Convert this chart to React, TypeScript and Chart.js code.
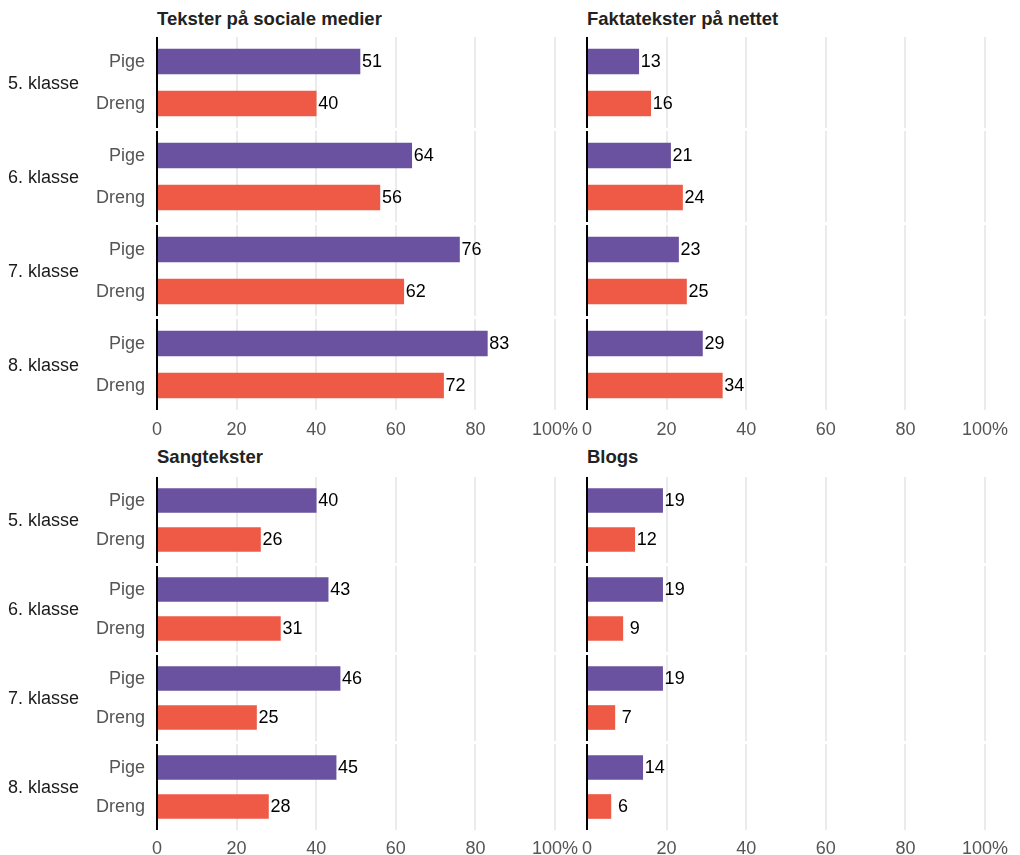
import React, { useEffect, useRef } from 'react';
import { Chart, registerables } from 'chart.js';

Chart.register(...registerables);

// ---- data ----
const grades = ['5. klasse', '6. klasse', '7. klasse', '8. klasse'];
const genders = ['Pige', 'Dreng'];
const panelTitles = ['Tekster på sociale medier', 'Faktatekster på nettet', 'Sangtekster', 'Blogs'];
const socialPige = [51, 64, 76, 83];
const socialDreng = [40, 56, 62, 72];
const faktaPige = [13, 21, 23, 29];
const faktaDreng = [16, 24, 25, 34];
const sangPige = [40, 43, 46, 45];
const sangDreng = [26, 31, 25, 28];
const blogsPige = [19, 19, 19, 14];
const blogsDreng = [12, 9, 7, 6];
const tickValues = [0, 20, 40, 60, 80, 100];
const tickLabels = ['0', '20', '40', '60', '80', '100%'];

// ---- styles ----
const PURPLE = '#6b52a1';
const RED = '#ef5a46';
const FONT = '"Liberation Sans", Arial, Helvetica, sans-serif';
const GRID = '#ebebeb';
const TICK_COLOR = '#555555';
const TEXT_COLOR = '#1a1a1a';

type PanelGeom = {
  title: string;
  pige: number[];
  dreng: number[];
  left: number;
  width: number;
  plotLeft: number;
  padRight: number;
  top: number;
  pitch: number;
  slotH: number;
  pad: number;
  barT: number;
  titleTop: number;
  tickPad: number;
  showY: boolean;
};

const EXTRA = 32;

const panels: PanelGeom[] = [
  { title: panelTitles[0], pige: socialPige, dreng: socialDreng, left: 0, width: 585, plotLeft: 157, padRight: 30, top: 37, pitch: 94, slotH: 91, pad: 3.5, barT: 25, titleTop: 8, tickPad: 5, showY: true },
  { title: panelTitles[1], pige: faktaPige, dreng: faktaDreng, left: 557, width: 463, plotLeft: 30, padRight: 35, top: 37, pitch: 94, slotH: 91, pad: 3.5, barT: 25, titleTop: 8, tickPad: 5, showY: false },
  { title: panelTitles[2], pige: sangPige, dreng: sangDreng, left: 0, width: 585, plotLeft: 157, padRight: 30, top: 477, pitch: 89, slotH: 86, pad: 4, barT: 24, titleTop: 446, tickPad: 4, showY: true },
  { title: panelTitles[3], pige: blogsPige, dreng: blogsDreng, left: 557, width: 463, plotLeft: 30, padRight: 35, top: 477, pitch: 89, slotH: 86, pad: 4, barT: 24, titleTop: 446, tickPad: 4, showY: false },
];

type FacetProps = { panel: PanelGeom; gi: number };

function Facet({ panel, gi }: FacetProps) {
  const ref = useRef<HTMLCanvasElement | null>(null);
  const isLast = gi === grades.length - 1;
  const height = panel.slotH + (isLast ? EXTRA : 0);
  const values = [panel.pige[gi], panel.dreng[gi]];

  useEffect(() => {
    if (!ref.current) return;
    const pad = panel.pad;
    const facetPlugin = {
      id: 'facetPlugin',
      beforeDatasetsDraw(chart: any) {
        const { ctx, chartArea: a, scales } = chart;
        const x = scales.x;
        ctx.save();
        ctx.strokeStyle = GRID;
        ctx.lineWidth = 2;
        for (const v of tickValues) {
          if (v === 0) continue;
          const px = Math.round(x.getPixelForValue(v));
          ctx.beginPath();
          ctx.moveTo(px, a.top - pad);
          ctx.lineTo(px, a.bottom + pad);
          ctx.stroke();
        }
        ctx.restore();
      },
      afterDatasetsDraw(chart: any) {
        const { ctx, chartArea: a, scales } = chart;
        const x = scales.x;
        const y = scales.y;
        ctx.save();
        // axis line at 0
        const x0 = Math.round(x.getPixelForValue(0));
        ctx.strokeStyle = '#000000';
        ctx.lineWidth = 2;
        ctx.beginPath();
        ctx.moveTo(x0, a.top - pad);
        ctx.lineTo(x0, a.bottom + pad);
        ctx.stroke();
        // value labels
        ctx.fillStyle = '#000000';
        ctx.font = `18px ${FONT}`;
        ctx.textAlign = 'left';
        ctx.textBaseline = 'middle';
        const meta = chart.getDatasetMeta(0);
        meta.data.forEach((bar: any, i: number) => {
          const v = chart.data.datasets[0].data[i];
          const txt = v < 10 ? ' ' + v : String(v);
          ctx.fillText(txt, bar.x + 2, bar.y + 1);
        });
        if (panel.showY) {
          // category labels (Pige / Dreng)
          ctx.fillStyle = TICK_COLOR;
          ctx.textAlign = 'right';
          genders.forEach((g, i) => {
            ctx.fillText(g, a.left - 12, y.getPixelForValue(i) + 1);
          });
          // grade label
          ctx.fillStyle = TEXT_COLOR;
          ctx.textAlign = 'left';
          ctx.fillText(grades[gi], 8, (a.top + a.bottom) / 2 + 1.5);
        }
        ctx.restore();
      },
    };

    const chart = new Chart(ref.current, {
      type: 'bar',
      data: {
        labels: genders,
        datasets: [
          {
            data: values,
            backgroundColor: [PURPLE, RED],
            barThickness: panel.barT,
            borderWidth: 0,
          },
        ],
      },
      options: {
        indexAxis: 'y',
        animation: false,
        responsive: false,
        maintainAspectRatio: false,
        devicePixelRatio: 1,
        events: [],
        layout: {
          padding: {
            left: panel.plotLeft,
            right: panel.padRight,
            top: pad,
            bottom: isLast ? 0 : pad,
          },
        },
        plugins: {
          legend: { display: false },
          tooltip: { enabled: false },
          title: { display: false },
        },
        scales: {
          x: {
            type: 'linear',
            min: 0,
            max: 100,
            display: isLast,
            grid: { display: false },
            border: { display: false },
            ticks: {
              stepSize: 20,
              padding: panel.tickPad,
              color: TICK_COLOR,
              font: { size: 18, family: FONT },
              maxRotation: 0,
              autoSkip: false,
              callback: (v: any) => {
                const idx = tickValues.indexOf(Number(v));
                return idx >= 0 ? tickLabels[idx] : '';
              },
            },
            afterFit: (s: any) => {
              if (isLast) s.height = pad + EXTRA;
              s.paddingLeft = 0;
              s.paddingRight = 0;
              s.paddingTop = 0;
              s.paddingBottom = 0;
            },
          },
          y: {
            type: 'category',
            display: false,
            offset: true,
            grid: { display: false },
            border: { display: false },
            afterFit: (s: any) => {
              s.paddingLeft = 0;
              s.paddingRight = 0;
              s.paddingTop = 0;
              s.paddingBottom = 0;
            },
          },
        },
      },
      plugins: [facetPlugin],
    } as any);
    return () => chart.destroy();
  }, []);

  return (
    <canvas
      ref={ref}
      width={panel.width}
      height={height}
      style={{
        position: 'absolute',
        left: panel.left,
        top: panel.top + gi * panel.pitch,
        width: panel.width,
        height,
        display: 'block',
      }}
    />
  );
}

export default function App() {
  return (
    <div
      style={{
        position: 'fixed',
        left: 0,
        top: 0,
        width: 1020,
        height: 855,
        background: '#ffffff',
        overflow: 'hidden',
        fontFamily: FONT,
      }}
    >
      {panels.map((p, pi) => (
        <div
          key={'t' + pi}
          style={{
            position: 'absolute',
            left: p.left + p.plotLeft,
            top: p.titleTop,
            font: `bold 18.5px ${FONT}`,
            lineHeight: '22px',
            color: '#222222',
            whiteSpace: 'nowrap',
          }}
        >
          {p.title}
        </div>
      ))}
      {panels.map((p, pi) =>
        grades.map((g, gi) => <Facet key={pi + '-' + gi} panel={p} gi={gi} />)
      )}
    </div>
  );
}
